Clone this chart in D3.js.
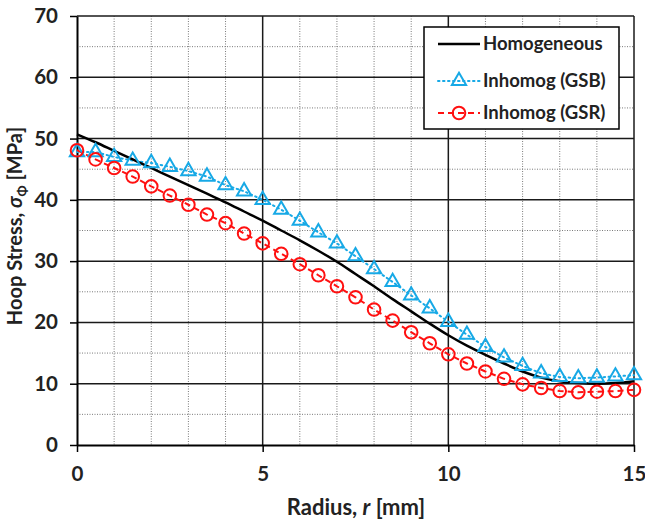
<!DOCTYPE html>
<html>
<head>
<meta charset="utf-8">
<script src="https://cdn.jsdelivr.net/npm/d3@7"></script>
<style>
  body { margin: 0; background: #fff; }
  text { font-family: Lato, "Open Sans", sans-serif; font-weight: bold; fill: #222; }
</style>
</head>
<body>
<div id="chart"></div>
<script>
// Data
var radius = [0, 0.5, 1, 1.5, 2, 2.5, 3, 3.5, 4, 4.5, 5, 5.5, 6, 6.5, 7, 7.5,
  8, 8.5, 9, 9.5, 10, 10.5, 11, 11.5, 12, 12.5, 13, 13.5, 14, 14.5, 15]
var homogeneous = [50.7, 49.4, 48.0, 46.6, 45.2, 43.8, 42.4, 41.0, 39.6, 38.1, 36.6, 35.0,
  33.4, 31.7, 29.9, 27.9, 25.9, 23.8, 21.8, 19.8, 17.9, 16.2, 14.7, 13.3, 12.0, 11.0,
  10.4, 10.1, 10.0, 10.1, 10.4]
var inhomogGSB = [47.8, 47.8, 47.0, 46.4, 46.0, 45.4, 44.7, 43.8, 42.4, 41.4, 40.0, 38.4,
  36.6, 34.7, 32.9, 30.8, 28.7, 26.6, 24.4, 22.3, 20.1, 18.0, 16.0, 14.3, 12.9, 11.7,
  11.1, 10.9, 11.0, 11.2, 11.4]
var inhomogGSR = [48.1, 46.6, 45.2, 43.8, 42.2, 40.7, 39.2, 37.6, 36.2, 34.5, 32.9, 31.2,
  29.5, 27.7, 25.9, 24.1, 22.1, 20.3, 18.4, 16.6, 14.8, 13.3, 12.0, 10.8, 9.9, 9.3,
  8.8, 8.6, 8.7, 8.8, 9.0]
var xTicks = [0, 5, 10, 15]
var xMinor = [1, 2, 3, 4, 6, 7, 8, 9, 11, 12, 13, 14]
var yTicks = [0, 10, 20, 30, 40, 50, 60, 70]
var yMinor = [5, 15, 25, 35, 45, 55, 65]
var legendNames = ['Homogeneous', 'Inhomog (GSB)', 'Inhomog (GSR)']

var margin = { top: 16, right: 11, bottom: 77, left: 77 }
var width = 645 - margin.left - margin.right
var height = 522 - margin.top - margin.bottom

var blue = '#17a9e6'
var red = '#ff1010'

var svg = d3.select('#chart')
  .append('svg')
  .attr('width', 645)
  .attr('height', 522)

var g = svg.append('g')
  .attr('transform', `translate(${margin.left},${margin.top})`)

var x = d3.scaleLinear().domain([0, 15]).range([0, width])
var y = d3.scaleLinear().domain([0, 70]).range([height, 0])

// minor grid (dotted)
g.selectAll('.xminor').data(xMinor).enter().append('line')
  .attr('x1', d => x(d)).attr('x2', d => x(d))
  .attr('y1', 0).attr('y2', height)
  .attr('stroke', '#7a7a7a').attr('stroke-width', 1)
  .attr('stroke-dasharray', '1,1.5')
g.selectAll('.yminor').data(yMinor).enter().append('line')
  .attr('x1', 0).attr('x2', width)
  .attr('y1', d => y(d)).attr('y2', d => y(d))
  .attr('stroke', '#7a7a7a').attr('stroke-width', 1)
  .attr('stroke-dasharray', '1,1.5')

// major grid (solid)
g.selectAll('.xmajor').data(xTicks.slice(1)).enter().append('line')
  .attr('x1', d => x(d)).attr('x2', d => x(d))
  .attr('y1', 0).attr('y2', height)
  .attr('stroke', '#1a1a1a').attr('stroke-width', 1.5)
g.selectAll('.ymajor').data(yTicks.slice(1)).enter().append('line')
  .attr('x1', 0).attr('x2', width)
  .attr('y1', d => y(d)).attr('y2', d => y(d))
  .attr('stroke', '#1a1a1a').attr('stroke-width', 1.5)

// axes
var xAxis = g.append('g')
  .attr('transform', `translate(0,${height})`)
  .call(d3.axisBottom(x).tickValues(xTicks).tickSize(7).tickPadding(14).tickSizeOuter(0))
var yAxis = g.append('g')
  .call(d3.axisLeft(y).tickValues(yTicks).tickSize(7).tickPadding(12).tickSizeOuter(0))
;[xAxis, yAxis].forEach(a => {
  a.select('.domain').attr('stroke', '#000').attr('stroke-width', 2)
  a.selectAll('.tick line').attr('stroke', '#000').attr('stroke-width', 1.5)
  a.selectAll('.tick text').attr('font-size', 20.5).attr('font-family', 'Lato, sans-serif')
    .attr('font-weight', 'bold').attr('fill', '#222')
})

// series
var pts = s => radius.map((r, i) => [r, s[i]])
var line = d3.line().x(d => x(d[0])).y(d => y(d[1]))

g.append('path').datum(pts(inhomogGSB))
  .attr('d', line).attr('fill', 'none')
  .attr('stroke', blue).attr('stroke-width', 2).attr('stroke-dasharray', '1.5,3.5')
  .attr('stroke-linecap', 'round')
g.append('path').datum(pts(inhomogGSR))
  .attr('d', line).attr('fill', 'none')
  .attr('stroke', red).attr('stroke-width', 2).attr('stroke-dasharray', '6,4')
g.append('path').datum(pts(homogeneous))
  .attr('d', line.curve(d3.curveMonotoneX)).attr('fill', 'none')
  .attr('stroke', '#000').attr('stroke-width', 2.5)

var tri = d3.symbol().type(d3.symbolTriangle).size(88)
g.selectAll('.gsb').data(pts(inhomogGSB)).enter().append('path')
  .attr('d', tri)
  .attr('transform', d => `translate(${x(d[0])},${y(d[1])})`)
  .attr('fill', 'none').attr('stroke', blue).attr('stroke-width', 2)
g.selectAll('.gsr').data(pts(inhomogGSR)).enter().append('circle')
  .attr('cx', d => x(d[0])).attr('cy', d => y(d[1])).attr('r', 6.3)
  .attr('fill', 'none').attr('stroke', red).attr('stroke-width', 2)

// axis titles
svg.append('text')
  .attr('x', 356).attr('y', 515)
  .attr('text-anchor', 'middle').attr('font-size', 22)
  .call(t => {
    t.append('tspan').text('Radius, ')
    t.append('tspan').attr('font-style', 'italic').text('r')
    t.append('tspan').text(' [mm]')
  })

svg.append('text')
  .attr('transform', 'translate(22,226) rotate(-90)')
  .attr('text-anchor', 'middle').attr('font-size', 20)
  .call(t => {
    t.append('tspan').text('Hoop Stress, ')
    t.append('tspan').attr('font-style', 'italic').text('σ')
    t.append('tspan').attr('font-size', 13).attr('dy', 5).text('Φ')
    t.append('tspan').attr('dy', -5).text(' [MPa]')
  })

// legend
var lg = svg.append('g').attr('transform', 'translate(424,27)')
lg.append('rect').attr('width', 195).attr('height', 102)
  .attr('fill', '#fff').attr('stroke', '#000').attr('stroke-width', 1.5)
var rows = [17, 54, 86]
legendNames.forEach((name, i) => {
  var ry = rows[i]
  var ln = lg.append('line').attr('x1', 14).attr('x2', 56).attr('y1', ry).attr('y2', ry)
    .attr('stroke-width', i === 0 ? 2.5 : 2)
  if (i === 0) ln.attr('stroke', '#000')
  if (i === 1) {
    ln.attr('stroke', blue).attr('stroke-dasharray', '1.5,3.5').attr('stroke-linecap', 'round')
    lg.append('path').attr('d', tri).attr('transform', `translate(35,${ry})`)
      .attr('fill', 'none').attr('stroke', blue).attr('stroke-width', 2)
  }
  if (i === 2) {
    ln.attr('stroke', red).attr('stroke-dasharray', '6,4')
    lg.append('circle').attr('cx', 35).attr('cy', ry).attr('r', 6.3)
      .attr('fill', 'none').attr('stroke', red).attr('stroke-width', 2)
  }
  lg.append('text').attr('x', 59).attr('y', ry).attr('dy', '0.35em')
    .attr('font-size', 18.5).text(name)
})
</script>
</body>
</html>
